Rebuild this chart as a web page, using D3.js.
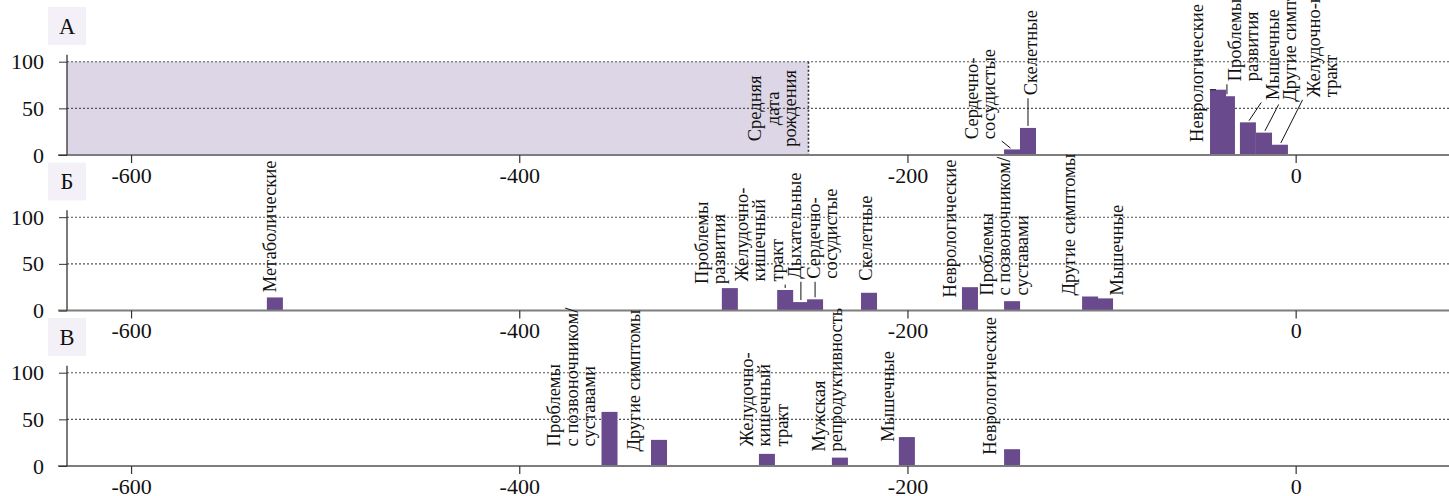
<!DOCTYPE html>
<html>
<head>
<meta charset="utf-8">
<script src="https://cdn.jsdelivr.net/npm/d3@7"></script>
<style>
  html, body { margin: 0; padding: 0; background: #fff; }
  svg { display: block; }
  svg text { font-family: "Liberation Serif", "Times New Roman", Times, serif; }
</style>
</head>
<body>
<svg id="chart" width="1449" height="496" font-family="Liberation Serif, serif"></svg>
<script>
// ---- data -------------------------------------------------------------
const panelLetters = ["А", "Б", "В"];
const xTicks = [-600, -400, -200, 0];
const yTicks = [0, 50, 100];
const avgBirth = -251;              // средняя дата рождения (панель А)
const avgBirthLabel = ["Средняя", "дата", "рождения"];

// Панель А
const catsA = ["Сердечно-\nсосудистые", "Скелетные", "Неврологические", "Проблемы\nразвития",
               "Мышечные", "Другие симптомы", "Желудочно-кишечный\nтракт"];
const timeA = [-146.1, -137.9, -40.0, -35.4, -24.6, -16.3, -8.1];
const valsA = [6, 29, 70, 63, 35, 24, 11];

// Панель Б
const catsB = ["Метаболические", "Проблемы\nразвития", "Желудочно-\nкишечный\nтракт", "Дыхательные",
               "Сердечно-\nсосудистые", "Скелетные", "Неврологические",
               "Проблемы\nс позвоночником/\nсуставами", "Другие симптомы", "Мышечные"];
const timeB = [-525.9, -291.5, -263.0, -254.9, -247.6, -219.8, -167.8, -146.1, -105.9, -98.2];
const valsB = [14, 24, 22, 9, 12, 19, 25, 10, 15, 13];

// Панель В
const catsC = ["Проблемы\nс позвоночником/\nсуставами", "Другие симптомы", "Желудочно-\nкишечный\nтракт",
               "Мужская\nрепродуктивность", "Мышечные", "Неврологические"];
const timeC = [-353.5, -328.0, -272.4, -234.8, -200.3, -146.1];
const valsC = [58, 28, 13, 9, 31, 18];

// ---- label layout (data units: start of first line) --------------------
const labelPosA = [[-163.7, 17], [-133.4, 64], [-47.8, 14], [-28.2, 79], [-8.6, 59], [0.2, 57], [12.5, 62]];
const leaderA   = [true, true, true, true, true, true, true];
const labelPosB = [[-525.3, 19.5], [-302.8, 28.5], [-282.2, 31], [-254.9, 34], [-245.3, 34],
                   [-218.4, 32], [-175.1, 14], [-156, 16], [-113.7, 16], [-89, 16]];
const leaderB   = [false, false, true, true, true, false, false, false, false, true];
const labelPosC = [[-379, 21], [-337.7, 15.5], [-279.6, 21], [-242.5, 15.5], [-207, 26], [-154.4, 12]];
const leaderC   = [false, false, false, false, false, false];

// ---- drawing ----------------------------------------------------------
const W = 1449;
const FONT = "Liberation Serif, serif";
const svg = d3.select("#chart");
const x = d3.scaleLinear().domain([-633, 79]).range([67, W]);
const BAR_W = 8.25;          // ширина столбца в единицах оси X
const PANEL_BASE = [155, 310.5, 466];
const PANEL_H = 93.3;        // высота от 0 до 100
const LABEL_SIZE = 18.5;
const TICK_SIZE = 22;
const LINE_H = 17.5;
const BAR_COLOR = "#694a8d";

const panels = [
  { cats: catsA, time: timeA, vals: valsA, pos: labelPosA, lead: leaderA, shade: true },
  { cats: catsB, time: timeB, vals: valsB, pos: labelPosB, lead: leaderB },
  { cats: catsC, time: timeC, vals: valsC, pos: labelPosC, lead: leaderC }
];

function drawLabel(g, text, px, py, anchor) {
  const lg = g.append("g").attr("transform", `translate(${px},${py}) rotate(-90)`);
  const t = lg.append("text")
    .attr("text-anchor", anchor)
    .attr("font-family", FONT)
    .attr("font-size", LABEL_SIZE)
    .attr("fill", "#111");
  text.forEach((line, k) => {
    t.append("tspan").attr("x", 0).attr("dy", k ? LINE_H : 0).text(line);
  });
  const b = t.node().getBBox();
  return { x0: px + b.y, x1: px + b.y + b.height, y0: py - (b.x + b.width), y1: py - b.x };
}

panels.forEach((p, i) => {
  const base = PANEL_BASE[i];
  const y = d3.scaleLinear().domain([0, 100]).range([base, base - PANEL_H]);
  const g = svg.append("g");

  if (p.shade) {
    g.append("rect")
      .attr("x", x.range()[0]).attr("y", y(100))
      .attr("width", x(avgBirth) - x.range()[0]).attr("height", y(0) - y(100))
      .attr("fill", "#ddd6e6");
  }

  // пунктирная сетка
  g.selectAll("line.grid").data(yTicks.filter(d => d > 0)).join("line")
    .attr("class", "grid")
    .attr("x1", x.range()[0]).attr("x2", W)
    .attr("y1", d => y(d)).attr("y2", d => y(d))
    .attr("stroke", "#555").attr("stroke-width", 1.1).attr("stroke-dasharray", "2,2");

  if (p.shade) {
    g.append("line")
      .attr("x1", x(avgBirth)).attr("x2", x(avgBirth))
      .attr("y1", y(100)).attr("y2", y(0))
      .attr("stroke", "#333").attr("stroke-width", 1.6).attr("stroke-dasharray", "2,2");
    const lastBase = x(avgBirth) - 12;
    const firstBase = lastBase - LINE_H * (avgBirthLabel.length - 1);
    drawLabel(g, avgBirthLabel, firstBase, y(50), "middle");
  }

  // столбцы
  const bars = p.cats.map((c, k) => ({ cat: c, t: p.time[k], v: p.vals[k], pos: p.pos[k], lead: p.lead[k] }));
  g.selectAll("rect.bar").data(bars).join("rect")
    .attr("class", "bar")
    .attr("x", d => x(d.t - BAR_W / 2))
    .attr("width", d => x(d.t + BAR_W / 2) - x(d.t - BAR_W / 2))
    .attr("y", d => y(d.v))
    .attr("height", d => y(0) - y(d.v))
    .attr("fill", BAR_COLOR);

  // базовая линия
  g.append("line")
    .attr("x1", x.range()[0] - 9).attr("x2", W)
    .attr("y1", y(0)).attr("y2", y(0))
    .attr("stroke", "#7d7d7d").attr("stroke-width", 2);

  // ось Y
  const yAxis = g.append("g").attr("transform", `translate(${x.range()[0]},0)`)
    .call(d3.axisLeft(y).tickValues(yTicks).tickSize(8).tickPadding(15));
  yAxis.attr("font-family", FONT).attr("font-size", TICK_SIZE);
  yAxis.select(".domain").remove();
  yAxis.selectAll(".tick line").attr("stroke", "#333");
  yAxis.selectAll(".tick text").attr("font-size", TICK_SIZE).attr("font-family", FONT).attr("fill", "#111");
  g.append("line")
    .attr("x1", x.range()[0]).attr("x2", x.range()[0])
    .attr("y1", y(0)).attr("y2", y(107.5))
    .attr("stroke", "#333").attr("stroke-width", 1.3);

  // ось X
  const xAxis = g.append("g").attr("transform", `translate(0,${y(0)})`)
    .call(d3.axisBottom(x).tickValues(xTicks).tickSize(8).tickPadding(4).tickFormat(d => String(d)));
  xAxis.attr("font-family", FONT).attr("font-size", TICK_SIZE);
  xAxis.select(".domain").remove();
  xAxis.selectAll(".tick line").attr("stroke", "#333").attr("stroke-width", 1.2);
  xAxis.selectAll(".tick text").attr("font-size", TICK_SIZE).attr("font-family", FONT).attr("fill", "#111");

  // подписи и выноски
  bars.forEach(d => {
    const box = drawLabel(g, d.cat.split("\n"), x(d.pos[0]), y(d.pos[1]), "start");
    if (!d.lead) return;
    const P = [x(d.t), y(d.v)];
    const Q = [Math.max(box.x0, Math.min(box.x1, P[0])), Math.max(box.y0, Math.min(box.y1, P[1]))];
    const dx = Q[0] - P[0], dy = Q[1] - P[1];
    const len = Math.hypot(dx, dy);
    if (len < 6) return;
    const ux = dx / len, uy = dy / len;
    g.append("line")
      .attr("x1", P[0] + ux * 2).attr("y1", P[1] + uy * 2)
      .attr("x2", Q[0] - ux * 3).attr("y2", Q[1] - uy * 3)
      .attr("stroke", "#111").attr("stroke-width", 1);
  });

  // буква панели
  const top = base - 148;
  g.append("rect").attr("x", 48).attr("y", top).attr("width", 38).attr("height", 38).attr("fill", "#f3f1f7");
  g.append("text").attr("x", 67).attr("y", top + 19 + 7.5)
    .attr("text-anchor", "middle").attr("font-family", FONT).attr("font-size", 22.5).attr("fill", "#111")
    .text(panelLetters[i]);
});
</script>
</body>
</html>
